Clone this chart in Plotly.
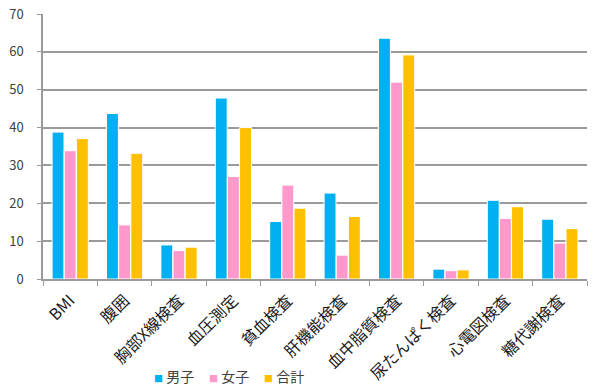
import plotly.graph_objects as go

categories = ["BMI", "腹囲", "胸部X線検査", "血圧測定", "貧血検査", "肝機能検査",
              "血中脂質検査", "尿たんぱく検査", "心電図検査", "糖代謝検査"]
male = [38.8, 43.7, 9.0, 47.8, 15.2, 22.7, 63.6, 2.6, 20.8, 15.8]
female = [33.9, 14.3, 7.5, 27.1, 24.8, 6.3, 52.0, 2.2, 16.0, 9.5]
total = [37.1, 33.2, 8.4, 40.0, 18.7, 16.5, 59.2, 2.4, 19.1, 13.3]
series_names = ["男子", "女子", "合計"]
colors = ["#00B0F0", "#FF99CC", "#FFC000"]

font_family = "Noto Sans CJK JP, Noto Sans, sans-serif"

fig = go.Figure()
for name, vals, col in zip(series_names, [male, female, total], colors):
    fig.add_trace(go.Bar(
        x=categories, y=vals, name=name, showlegend=False,
        marker=dict(color=col, line=dict(color="white", width=1)),
    ))

# legend drawn as text: coloured square + series name
legend_x = [0.201, 0.302, 0.403]
for name, col, lx in zip(series_names, colors, legend_x):
    fig.add_annotation(
        xref="paper", yref="paper", x=lx, y=-0.366,
        xanchor="left", yanchor="middle", showarrow=False,
        text=f"<span style='color:{col};font-size:9px'>■</span> {name}",
        font=dict(size=14, color="#404040", family=font_family),
    )

fig.update_layout(
    width=610, height=385,
    margin=dict(l=43, r=23, t=14, b=106, autoexpand=False),
    paper_bgcolor="white", plot_bgcolor="white",
    barmode="group", bargap=0.33, bargroupgap=0.02,
    font=dict(family=font_family, color="#404040", size=12),
    showlegend=False,
)
fig.update_xaxes(
    automargin=False,
    showline=True, linecolor="#9a9a9a", linewidth=1.5,
    ticks="outside", tickson="boundaries", ticklen=5, tickcolor="#9a9a9a",
    tickangle=-45, tickfont=dict(size=16, color="#1a1a1a"),
    ticklabelstandoff=4,
    showgrid=False,
)
fig.update_yaxes(
    automargin=False,
    range=[0, 70], dtick=10,
    showline=True, linecolor="#9a9a9a", linewidth=1.5,
    showgrid=True, gridcolor="#9a9a9a", gridwidth=1.5,
    ticks="outside", ticklen=4, tickcolor="#9a9a9a",
    ticklabelstandoff=11, ticklabeloverflow="allow",
    tickfont=dict(size=13, color="#404040"),
    zeroline=False,
)

# remove the default 8px page margin so the figure fills the window
fig.write_html("out.html",
               config={"displayModeBar": False},
               post_script="document.body.style.margin='0';document.body.style.overflow='hidden';")
